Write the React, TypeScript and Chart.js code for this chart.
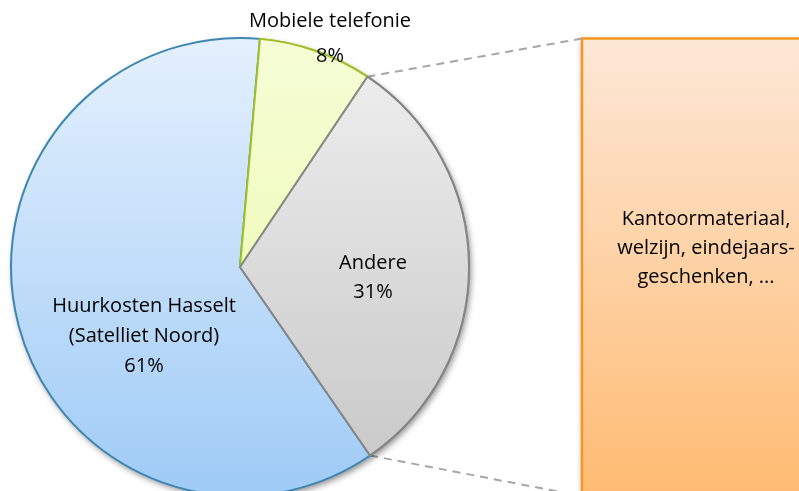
import { useEffect, useRef } from 'react';
import { Chart, registerables } from 'chart.js';

Chart.register(...registerables);

// ---- data ----
const sliceNames = ['Mobiele telefonie', 'Andere', 'Huurkosten Hasselt (Satelliet Noord)'];
const sliceValues = [8, 31, 61];
const sliceLabelLines = [['Mobiele telefonie'], ['Andere'], ['Huurkosten Hasselt', '(Satelliet Noord)']];
const barNames = ['Kantoormateriaal, welzijn, eindejaars-geschenken, ...'];
const barValues = [31];
const barLabelLines = ['Kantoormateriaal,', 'welzijn, eindejaars-', 'geschenken, ...'];

// ---- style ----
const FONT = "'Open Sans', 'DejaVu Sans', sans-serif";
const FONT_SIZE = 20;
const PIE_RADIUS = 229;
const sliceGradients = [
  ['#f6fdd6', '#e9f8a6'],
  ['#f0f0f0', '#c6c6c6'],
  ['#e4f0fd', '#9fcbf6'],
];
const sliceBorders = ['#9fbf26', '#858585', '#3d86b2'];
// label placement (offsets from pie centre in px) and line height
const sliceLabelPos = [
  { dx: 90, dy: -228, lh: 35 },
  { dx: 133, dy: 11, lh: 29 },
  { dx: -96, dy: 69, lh: 30 },
];

export default function App() {
  const canvasRef = useRef<HTMLCanvasElement | null>(null);

  useEffect(() => {
    const canvas = canvasRef.current;
    if (!canvas) return;

    const decor = {
      id: 'decor',
      beforeDatasetsDraw(chart: any) {
        const ctx: CanvasRenderingContext2D = chart.ctx;
        const arcs = chart.getDatasetMeta(0).data as any[];
        const a = arcs[1];
        const cx = a.x, cy = a.y, r = a.outerRadius;
        const barX = 582, barW = 248;
        const barTop = cy - r + 0.5;
        const barBottom = cy + r;

        // bar of pie (single segment = Andere)
        ctx.save();
        const g = ctx.createLinearGradient(0, barTop, 0, barBottom);
        g.addColorStop(0, '#fde8d7');
        g.addColorStop(1, '#ffbb72');
        ctx.shadowColor = 'rgba(0,0,0,0.35)';
        ctx.shadowBlur = 6;
        ctx.shadowOffsetX = 0;
        ctx.shadowOffsetY = 1;
        ctx.fillStyle = g;
        ctx.fillRect(barX, barTop, barW, barBottom - barTop);
        ctx.restore();
        ctx.save();
        ctx.strokeStyle = '#f7951e';
        ctx.lineWidth = 2.5;
        ctx.strokeRect(barX, barTop, barW, barBottom - barTop);
        ctx.restore();

        // bar label
        ctx.save();
        ctx.fillStyle = '#000';
        ctx.font = `${FONT_SIZE}px ${FONT}`;
        ctx.textAlign = 'center';
        ctx.textBaseline = 'middle';
        const bx = barX + barW / 2;
        const by = cy - 19;
        const blh = 29;
        barLabelLines.forEach((t, i) => {
          ctx.fillText(t, bx, by + (i - (barLabelLines.length - 1) / 2) * blh);
        });
        ctx.restore();

        // connector lines
        const p1x = cx + r * Math.cos(a.startAngle), p1y = cy + r * Math.sin(a.startAngle);
        const p2x = cx + r * Math.cos(a.endAngle), p2y = cy + r * Math.sin(a.endAngle);
        ctx.save();
        ctx.strokeStyle = '#a6a6a6';
        ctx.lineWidth = 2;
        ctx.setLineDash([8, 6]);
        ctx.beginPath();
        ctx.moveTo(p1x, p1y);
        ctx.lineTo(barX, barTop);
        ctx.moveTo(p2x, p2y);
        ctx.lineTo(barX, barBottom);
        ctx.stroke();
        ctx.restore();

        // pie shadow
        ctx.save();
        ctx.shadowColor = 'rgba(0,0,0,0.45)';
        ctx.shadowBlur = 6;
        ctx.shadowOffsetX = 2;
        ctx.shadowOffsetY = 3;
        ctx.fillStyle = '#ffffff';
        ctx.beginPath();
        ctx.arc(cx, cy, r, 0, Math.PI * 2);
        ctx.fill();
        ctx.restore();
      },
      afterDatasetsDraw(chart: any) {
        const ctx: CanvasRenderingContext2D = chart.ctx;
        const arcs = chart.getDatasetMeta(0).data as any[];
        // stacking order as in the reference: big slice underneath
        arcs[0].draw(ctx, chart.chartArea);
        arcs[1].draw(ctx, chart.chartArea);

        const total = sliceValues.reduce((s, v) => s + v, 0);
        ctx.save();
        ctx.fillStyle = '#000';
        ctx.font = `${FONT_SIZE}px ${FONT}`;
        ctx.textAlign = 'center';
        ctx.textBaseline = 'middle';
        arcs.forEach((arc, i) => {
          const pos = sliceLabelPos[i];
          const lines = [...sliceLabelLines[i], `${Math.round((sliceValues[i] / total) * 100)}%`];
          const x = arc.x + pos.dx;
          const y = arc.y + pos.dy;
          lines.forEach((t, j) => {
            ctx.fillText(t, x, y + (j - (lines.length - 1) / 2) * pos.lh);
          });
        });
        ctx.restore();
      },
    };

    const chart = new Chart(canvas, {
      type: 'pie',
      data: {
        labels: sliceNames,
        datasets: [
          {
            data: sliceValues,
            backgroundColor: (c: any) => {
              const ch = c.chart;
              const area = ch.chartArea;
              if (!area) return sliceGradients[c.dataIndex][0];
              const cy = (area.top + area.bottom) / 2;
              const g = ch.ctx.createLinearGradient(0, cy - PIE_RADIUS, 0, cy + PIE_RADIUS);
              g.addColorStop(0, sliceGradients[c.dataIndex][0]);
              g.addColorStop(1, sliceGradients[c.dataIndex][1]);
              return g;
            },
            borderColor: sliceBorders,
            borderWidth: 2,
            radius: PIE_RADIUS,
          } as any,
        ],
      },
      options: {
        responsive: false,
        animation: false,
        rotation: 5,
        layout: { padding: { left: 11, right: 330, top: 43, bottom: 0 } },
        plugins: {
          legend: { display: false },
          tooltip: { enabled: false },
          title: { display: false },
        },
      },
      plugins: [decor],
    });

    return () => chart.destroy();
  }, []);

  return (
    <div style={{ position: 'fixed', left: 0, top: 0, width: 799, height: 491, background: '#fff' }}>
      <canvas ref={canvasRef} width={799} height={491} style={{ display: 'block' }} />
    </div>
  );
}

void barNames;
void barValues;
